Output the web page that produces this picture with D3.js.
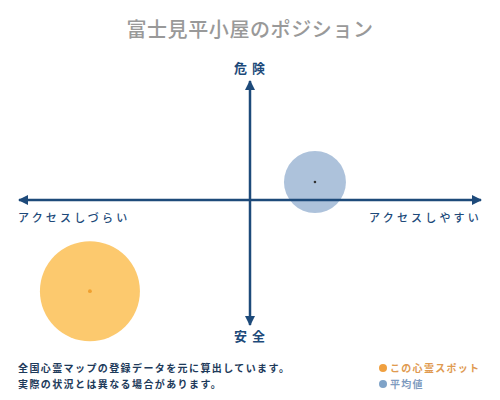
<!DOCTYPE html>
<html><head><meta charset="utf-8">
<script src="https://cdn.jsdelivr.net/npm/d3@7"></script>
<style>
html,body{margin:0;padding:0;background:#fff;}
svg{display:block;font-family:"Noto Sans CJK JP","Noto Sans",sans-serif;}
</style></head>
<body>
<svg id="c" width="500" height="400"></svg>
<script>
const title = "富士見平小屋のポジション";
const axisLabels = {top:"危 険", bottom:"安 全", left:"アクセスしづらい", right:"アクセスしやすい"};
const seriesNames = ["この心霊スポット","平均値"];
const seriesX = [-0.69, 0.28];
const seriesY = [-0.76, 0.15];
const seriesR = [50, 31];
const notes = ["全国心霊マップの登録データを元に算出しています。","実際の状況とは異なる場合があります。"];

const svg = d3.select("#c");
const navy = "#1d4a7a";
const fills = ["#fcc96e","#a9bfd9"];
const dots = ["#f0a030","#333"];
const legendColors = ["#f0a040","#7fa3c8"];
const legendText = ["#e09a50","#7f9cc0"];

const x = d3.scaleLinear().domain([-1,1]).range([18,482]);
const y = d3.scaleLinear().domain([-1,1]).range([320,80]);

svg.append("text").attr("x",250).attr("y",37).attr("text-anchor","middle")
  .attr("font-size",20).attr("fill","#999").attr("letter-spacing",0.6).attr("font-weight",500).text(title);

const defs = svg.append("defs");
defs.append("marker").attr("id","ah").attr("viewBox","0 0 10 10").attr("refX",9).attr("refY",5)
  .attr("markerWidth",4).attr("markerHeight",4).attr("orient","auto-start-reverse")
  .append("path").attr("d","M0,0L10,5L0,10z").attr("fill",navy);

const g = svg.append("g");
[0,1].forEach(i=>{
  g.append("circle").attr("cx",x(seriesX[i])).attr("cy",y(seriesY[i])).attr("r",seriesR[i])
   .attr("fill",fills[i]).attr("fill-opacity",i===1?0.95:1);
});

svg.append("line").attr("x1",x(-1)+1).attr("x2",x(1)-1).attr("y1",y(0)).attr("y2",y(0))
  .attr("stroke",navy).attr("stroke-width",2.5)
  .attr("marker-start","url(#ah)").attr("marker-end","url(#ah)");
svg.append("line").attr("x1",x(0)).attr("x2",x(0)).attr("y1",y(1)+1).attr("y2",y(-1)+5)
  .attr("stroke",navy).attr("stroke-width",2.5)
  .attr("marker-start","url(#ah)").attr("marker-end","url(#ah)");

[0,1].forEach(i=>{
  g.append("circle").attr("cx",x(seriesX[i])).attr("cy",y(seriesY[i])).attr("r",i===0?1.9:1.3).attr("fill",dots[i]);
});

svg.append("text").attr("x",250).attr("y",73).attr("text-anchor","middle").attr("font-size",13)
  .attr("font-weight",700).attr("fill",navy).attr("letter-spacing",1).text(axisLabels.top);
svg.append("text").attr("x",250).attr("y",341).attr("text-anchor","middle").attr("font-size",13)
  .attr("font-weight",700).attr("fill",navy).attr("letter-spacing",1).text(axisLabels.bottom);
svg.append("text").attr("x",18).attr("y",222).attr("font-size",11).attr("letter-spacing",3.2)
  .attr("fill",navy).attr("font-weight",500).text(axisLabels.left);
svg.append("text").attr("x",482).attr("y",222).attr("text-anchor","end").attr("font-size",11).attr("letter-spacing",3.2)
  .attr("fill",navy).attr("font-weight",500).text(axisLabels.right);

notes.forEach((t,i)=>{
  svg.append("text").attr("x",18).attr("y",372+i*16).attr("font-size",10).attr("letter-spacing",1.4)
    .attr("fill","#1d3a5a").attr("font-weight",700).text(t);
});

seriesNames.forEach((t,i)=>{
  svg.append("circle").attr("cx",383).attr("cy",368+i*16).attr("r",4).attr("fill",legendColors[i]);
  svg.append("text").attr("x",390).attr("y",372+i*16).attr("font-size",10).attr("letter-spacing",1.3)
    .attr("fill",legendText[i]).attr("font-weight",700).text(t);
});
</script>
</body></html>
